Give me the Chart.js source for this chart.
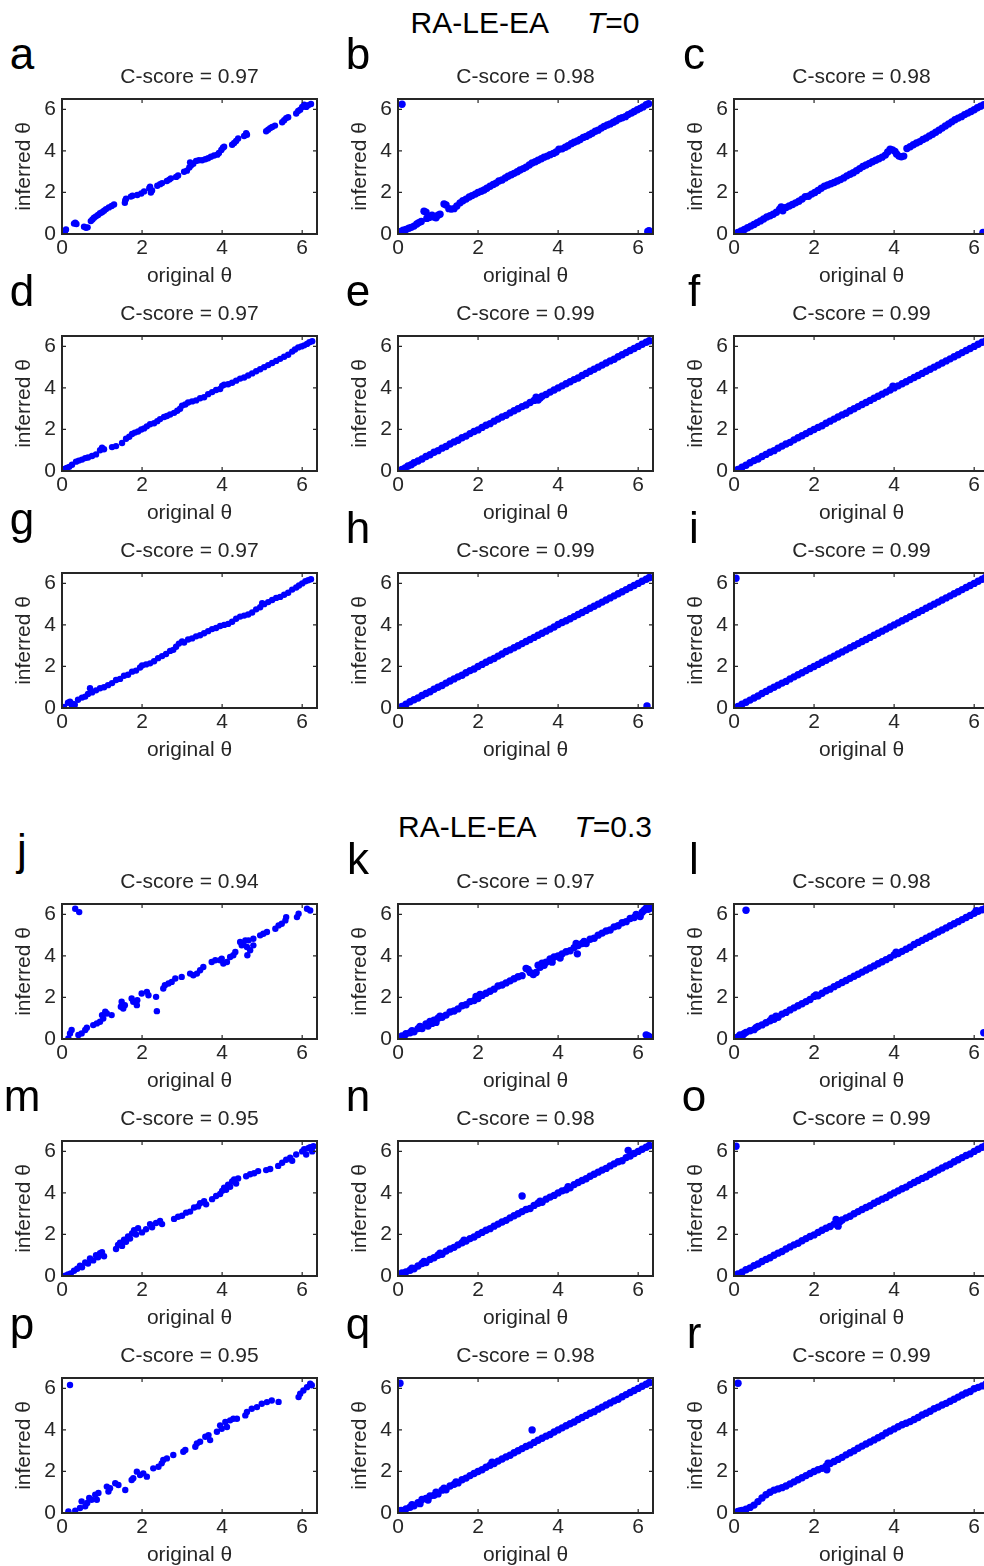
<!DOCTYPE html>
<html>
<head>
<meta charset="utf-8">
<script src="https://cdn.jsdelivr.net/npm/chart.js@4.4.1/dist/chart.umd.min.js"></script>
<style>
  html, body { margin: 0; padding: 0; background: #fff; overflow: hidden; }
  body { width: 984px; height: 1566px; position: relative; font-family: "Liberation Sans", Arial, sans-serif; }
  canvas { position: absolute; }
  .letter { position: absolute; width: 60px; text-align: center; font-size: 44px; line-height: 44px; color: #000; }
  .section { position: absolute; font-size: 30px; line-height: 30px; color: #000; white-space: nowrap; transform: translateX(-50%); }
  .section span { margin-left: 38px; }
</style>
</head>
<body>
<script>
// panel labels, scores and ticks
const letters = ['a','b','c','d','e','f','g','h','i','j','k','l','m','n','o','p','q','r'];
const cScores = [0.97,0.98,0.98,0.97,0.99,0.99,0.97,0.99,0.99,0.94,0.97,0.98,0.95,0.98,0.99,0.95,0.98,0.99];
const tickValues = [0, 2, 4, 6];
const sectionNames = ['RA-LE-EA', 'RA-LE-EA'];
const sectionT = ['0', '0.3'];
const sparsePanels = ['a','d','g','j','m','p'];

// [original theta, inferred theta]
const ptsA = [[0.06,0.05],[0.08,0.15],[0.1,0.22],[0.3,0.5],[0.33,0.55],[0.36,0.48],[0.55,0.35],[0.6,0.3],[0.64,0.32],[0.72,0.62],[0.76,0.7],[0.8,0.78],[0.85,0.85],[0.9,0.92],[0.95,1.0],[1.0,1.05],[1.05,1.12],[1.1,1.2],[1.17,1.28],[1.24,1.35],[1.3,1.42],[1.57,1.5],[1.58,1.62],[1.6,1.7],[1.72,1.8],[1.76,1.84],[1.88,1.88],[1.98,1.95],[2.05,2.05],[2.18,2.2],[2.2,2.28],[2.22,2.0],[2.25,2.1],[2.38,2.32],[2.45,2.4],[2.5,2.45],[2.62,2.55],[2.68,2.62],[2.72,2.68],[2.85,2.75],[2.9,2.82],[3.05,3.0],[3.12,3.05],[3.18,3.2],[3.2,3.45],[3.22,3.3],[3.28,3.38],[3.35,3.52],[3.42,3.55],[3.5,3.55],[3.58,3.6],[3.65,3.65],[3.72,3.72],[3.8,3.78],[3.88,3.82],[3.92,3.9],[3.98,4.05],[4.02,4.15],[4.05,4.2],[4.25,4.3],[4.3,4.38],[4.35,4.48],[4.4,4.6],[4.55,4.72],[4.6,4.85],[4.62,4.78],[5.1,4.95],[5.15,5.02],[5.2,5.1],[5.25,5.15],[5.32,5.22],[5.5,5.38],[5.55,5.48],[5.6,5.58],[5.65,5.62],[5.85,5.8],[5.9,5.92],[5.95,5.98],[6.0,6.12],[6.05,6.22],[6.1,6.12],[6.15,6.2],[6.22,6.26]];
const ptsB = [[0.03,0.08],[0.08,0.12],[0.13,0.18],[0.2,0.22],[0.27,0.28],[0.33,0.32],[0.4,0.38],[0.47,0.48],[0.52,0.55],[0.58,0.6],[0.65,1.1],[0.7,1.05],[0.72,0.75],[0.78,0.8],[0.85,0.9],[0.9,0.82],[0.95,0.78],[1.0,0.9],[1.05,0.95],[1.15,1.45],[1.2,1.4],[1.27,1.22],[1.33,1.2],[1.4,1.22],[1.47,1.35],[1.55,1.5],[1.62,1.6],[1.7,1.68],[1.78,1.78],[1.85,1.85],[1.93,1.92],[2.0,2.0],[2.08,2.06],[2.15,2.12],[2.22,2.2],[2.3,2.3],[2.38,2.38],[2.45,2.45],[2.52,2.55],[2.6,2.6],[2.68,2.7],[2.75,2.78],[2.83,2.85],[2.9,2.92],[2.98,3.0],[3.05,3.08],[3.13,3.15],[3.2,3.22],[3.28,3.32],[3.35,3.42],[3.43,3.48],[3.5,3.55],[3.58,3.62],[3.65,3.7],[3.73,3.75],[3.8,3.82],[3.88,3.88],[3.95,3.95],[4.02,4.08],[4.1,4.1],[4.18,4.18],[4.25,4.25],[4.33,4.35],[4.4,4.42],[4.48,4.48],[4.55,4.55],[4.63,4.65],[4.7,4.7],[4.78,4.78],[4.85,4.85],[4.93,4.95],[5.0,5.0],[5.08,5.1],[5.15,5.18],[5.23,5.25],[5.3,5.3],[5.38,5.38],[5.45,5.45],[5.53,5.55],[5.6,5.6],[5.68,5.65],[5.75,5.75],[5.83,5.82],[5.9,5.9],[5.98,5.98],[6.05,6.05],[6.12,6.12],[6.2,6.22],[6.26,6.27],[0.1,6.25],[6.24,0.12],[6.27,0.16]];
const ptsC = [[0.03,0.03],[0.1,0.08],[0.18,0.15],[0.26,0.22],[0.34,0.3],[0.42,0.38],[0.5,0.46],[0.58,0.55],[0.66,0.63],[0.74,0.72],[0.82,0.82],[0.9,0.88],[0.98,0.95],[1.06,1.05],[1.14,1.2],[1.18,1.3],[1.22,1.12],[1.3,1.28],[1.38,1.35],[1.46,1.42],[1.54,1.5],[1.62,1.58],[1.7,1.68],[1.78,1.8],[1.86,1.82],[1.94,1.92],[2.02,2.0],[2.1,2.1],[2.18,2.2],[2.26,2.3],[2.34,2.36],[2.42,2.42],[2.5,2.48],[2.58,2.55],[2.66,2.62],[2.74,2.7],[2.82,2.8],[2.9,2.88],[2.98,2.95],[3.06,3.05],[3.14,3.15],[3.22,3.25],[3.3,3.32],[3.38,3.4],[3.46,3.48],[3.54,3.55],[3.62,3.62],[3.7,3.7],[3.78,3.8],[3.84,3.95],[3.9,4.08],[3.96,4.05],[4.02,3.98],[4.06,3.85],[4.12,3.75],[4.18,3.72],[4.24,3.75],[4.32,4.12],[4.4,4.2],[4.48,4.3],[4.56,4.38],[4.64,4.45],[4.72,4.55],[4.8,4.62],[4.88,4.72],[4.96,4.8],[5.04,4.9],[5.12,5.0],[5.2,5.1],[5.28,5.2],[5.36,5.3],[5.44,5.4],[5.52,5.5],[5.6,5.58],[5.68,5.65],[5.76,5.75],[5.84,5.82],[5.92,5.9],[6.0,5.98],[6.08,6.08],[6.16,6.15],[6.24,6.22],[6.32,6.3],[6.22,0.08]];
const ptsD = [[0.03,0.05],[0.07,0.1],[0.12,0.15],[0.18,0.2],[0.25,0.3],[0.35,0.45],[0.42,0.5],[0.5,0.55],[0.58,0.62],[0.65,0.65],[0.75,0.72],[0.85,0.8],[0.95,1.0],[1.0,1.12],[1.05,1.05],[1.25,1.15],[1.35,1.2],[1.5,1.35],[1.6,1.55],[1.68,1.65],[1.75,1.78],[1.82,1.85],[1.9,1.9],[1.98,2.0],[2.05,2.05],[2.12,2.15],[2.2,2.25],[2.3,2.3],[2.38,2.4],[2.45,2.5],[2.55,2.6],[2.62,2.65],[2.7,2.72],[2.8,2.8],[2.88,2.9],[2.95,3.0],[3.0,3.15],[3.08,3.2],[3.15,3.3],[3.25,3.35],[3.35,3.4],[3.45,3.5],[3.55,3.55],[3.65,3.7],[3.75,3.8],[3.85,3.9],[3.95,3.95],[4.0,4.1],[4.05,4.15],[4.15,4.18],[4.25,4.25],[4.35,4.35],[4.45,4.45],[4.55,4.5],[4.65,4.6],[4.75,4.7],[4.85,4.8],[4.95,4.9],[5.05,5.0],[5.15,5.1],[5.25,5.2],[5.35,5.3],[5.45,5.4],[5.55,5.5],[5.65,5.6],[5.75,5.75],[5.82,5.85],[5.9,5.95],[5.98,6.0],[6.05,6.05],[6.12,6.12],[6.18,6.2],[6.25,6.25]];
const ptsE = [[0.03,0.02],[0.1,0.08],[0.18,0.15],[0.25,0.24],[0.33,0.3],[0.4,0.4],[0.5,0.48],[0.6,0.58],[0.7,0.7],[0.8,0.78],[0.9,0.9],[1.0,0.98],[1.1,1.1],[1.2,1.18],[1.3,1.3],[1.4,1.4],[1.5,1.48],[1.6,1.6],[1.7,1.68],[1.8,1.8],[1.9,1.9],[2.0,1.98],[2.1,2.1],[2.2,2.2],[2.3,2.28],[2.4,2.4],[2.5,2.5],[2.6,2.6],[2.7,2.68],[2.8,2.8],[2.9,2.9],[3.0,3.0],[3.1,3.1],[3.2,3.18],[3.3,3.3],[3.4,3.4],[3.45,3.55],[3.5,3.42],[3.55,3.52],[3.6,3.6],[3.7,3.68],[3.8,3.8],[3.9,3.9],[4.0,4.0],[4.1,4.1],[4.2,4.2],[4.3,4.3],[4.4,4.4],[4.5,4.48],[4.6,4.6],[4.7,4.7],[4.8,4.8],[4.9,4.9],[5.0,5.0],[5.1,5.1],[5.2,5.2],[5.3,5.3],[5.4,5.38],[5.5,5.5],[5.6,5.6],[5.7,5.7],[5.8,5.8],[5.9,5.9],[6.0,6.0],[6.1,6.1],[6.2,6.2],[6.28,6.27]];
const ptsF = [[0.03,0.03],[0.1,0.08],[0.2,0.18],[0.3,0.28],[0.4,0.4],[0.5,0.5],[0.6,0.58],[0.7,0.7],[0.8,0.8],[0.9,0.9],[1.0,0.98],[1.1,1.1],[1.2,1.2],[1.3,1.3],[1.4,1.38],[1.5,1.5],[1.6,1.6],[1.7,1.7],[1.8,1.8],[1.9,1.9],[2.0,2.0],[2.1,2.1],[2.2,2.18],[2.3,2.3],[2.4,2.4],[2.5,2.5],[2.6,2.6],[2.7,2.7],[2.8,2.78],[2.9,2.9],[3.0,3.0],[3.1,3.1],[3.2,3.2],[3.3,3.3],[3.4,3.4],[3.5,3.5],[3.6,3.6],[3.7,3.7],[3.8,3.8],[3.9,3.9],[3.97,4.08],[4.0,4.0],[4.1,4.1],[4.2,4.2],[4.3,4.3],[4.4,4.4],[4.5,4.5],[4.6,4.6],[4.7,4.7],[4.8,4.8],[4.9,4.9],[5.0,5.0],[5.1,5.1],[5.2,5.2],[5.3,5.3],[5.4,5.4],[5.5,5.5],[5.6,5.6],[5.7,5.7],[5.8,5.8],[5.9,5.9],[6.0,6.0],[6.1,6.1],[6.2,6.2],[6.3,6.28]];
const ptsG = [[0.05,0.05],[0.15,0.25],[0.2,0.3],[0.25,0.1],[0.28,0.2],[0.32,0.15],[0.4,0.4],[0.5,0.5],[0.58,0.55],[0.65,0.68],[0.7,0.95],[0.75,0.75],[0.85,0.85],[0.95,0.95],[1.05,1.0],[1.15,1.1],[1.25,1.2],[1.35,1.35],[1.45,1.4],[1.55,1.55],[1.65,1.6],[1.75,1.75],[1.85,1.8],[1.95,1.95],[2.0,2.05],[2.1,2.1],[2.2,2.15],[2.3,2.25],[2.4,2.4],[2.5,2.5],[2.6,2.6],[2.7,2.75],[2.78,2.8],[2.85,2.95],[2.92,3.1],[3.0,3.2],[3.05,3.15],[3.15,3.3],[3.25,3.35],[3.35,3.45],[3.45,3.5],[3.55,3.6],[3.65,3.7],[3.75,3.8],[3.85,3.85],[3.95,3.95],[4.05,4.0],[4.15,4.05],[4.25,4.15],[4.35,4.3],[4.45,4.4],[4.55,4.45],[4.65,4.5],[4.75,4.6],[4.85,4.75],[4.95,4.85],[5.0,5.05],[5.05,5.0],[5.15,5.1],[5.25,5.2],[5.35,5.3],[5.45,5.35],[5.55,5.45],[5.65,5.55],[5.75,5.7],[5.85,5.8],[5.92,5.9],[6.0,6.0],[6.08,6.1],[6.15,6.15],[6.22,6.2]];
const ptsH = [[0.03,0.03],[0.1,0.08],[0.2,0.18],[0.3,0.3],[0.4,0.4],[0.5,0.48],[0.6,0.6],[0.7,0.7],[0.8,0.78],[0.9,0.9],[1.0,1.0],[1.1,1.08],[1.2,1.2],[1.3,1.3],[1.4,1.4],[1.5,1.5],[1.6,1.58],[1.7,1.7],[1.8,1.8],[1.9,1.88],[2.0,2.0],[2.1,2.1],[2.2,2.2],[2.3,2.3],[2.4,2.38],[2.5,2.5],[2.6,2.6],[2.7,2.72],[2.8,2.8],[2.9,2.9],[3.0,3.0],[3.1,3.1],[3.2,3.2],[3.3,3.3],[3.4,3.4],[3.5,3.5],[3.6,3.6],[3.7,3.7],[3.8,3.8],[3.9,3.9],[4.0,4.02],[4.1,4.12],[4.2,4.2],[4.3,4.3],[4.4,4.4],[4.5,4.5],[4.6,4.6],[4.7,4.7],[4.8,4.8],[4.9,4.9],[5.0,5.0],[5.1,5.1],[5.2,5.2],[5.3,5.3],[5.4,5.4],[5.5,5.5],[5.6,5.6],[5.7,5.7],[5.8,5.8],[5.9,5.9],[6.0,6.0],[6.1,6.1],[6.2,6.2],[6.28,6.28],[6.22,0.1]];
const ptsI = [[0.03,0.02],[0.1,0.08],[0.2,0.18],[0.3,0.28],[0.4,0.38],[0.5,0.48],[0.6,0.58],[0.7,0.7],[0.8,0.8],[0.9,0.9],[1.0,1.0],[1.1,1.1],[1.2,1.2],[1.3,1.28],[1.4,1.4],[1.5,1.5],[1.6,1.6],[1.7,1.7],[1.8,1.8],[1.9,1.9],[2.0,2.0],[2.1,2.1],[2.2,2.2],[2.3,2.3],[2.4,2.4],[2.5,2.5],[2.6,2.6],[2.7,2.7],[2.8,2.8],[2.9,2.9],[3.0,3.0],[3.1,3.1],[3.2,3.2],[3.3,3.3],[3.4,3.4],[3.5,3.5],[3.6,3.6],[3.7,3.7],[3.8,3.8],[3.9,3.9],[4.0,4.0],[4.1,4.1],[4.2,4.2],[4.3,4.3],[4.4,4.4],[4.5,4.5],[4.6,4.6],[4.7,4.7],[4.8,4.8],[4.9,4.9],[5.0,5.0],[5.1,5.1],[5.2,5.2],[5.3,5.3],[5.4,5.4],[5.5,5.5],[5.6,5.6],[5.7,5.7],[5.8,5.8],[5.9,5.9],[6.0,6.0],[6.1,6.1],[6.2,6.2],[6.28,6.28],[0.05,6.25]];
const ptsJ = [[0.33,6.27],[0.43,6.11],[0.16,0.03],[0.2,0.27],[0.24,0.43],[0.41,0.19],[0.49,0.27],[0.58,0.43],[0.62,0.54],[0.78,0.67],[0.87,0.75],[0.95,0.83],[1.03,0.99],[1.08,1.31],[1.0,1.15],[1.12,1.23],[1.24,1.15],[1.49,1.79],[1.53,1.47],[1.57,1.63],[1.47,1.55],[1.74,1.95],[1.78,1.79],[1.87,1.63],[1.88,1.87],[1.99,2.19],[2.12,2.27],[2.16,2.11],[2.35,2.03],[2.37,1.34],[2.53,2.43],[2.57,2.59],[2.66,2.67],[2.74,2.75],[2.83,2.91],[2.99,2.99],[3.2,3.15],[3.28,3.07],[3.37,3.15],[3.45,3.31],[3.53,3.47],[3.74,3.71],[3.83,3.79],[3.95,3.79],[4.03,3.63],[3.99,3.87],[4.12,3.71],[4.2,3.95],[4.28,4.03],[4.33,4.19],[4.45,4.67],[4.49,4.51],[4.53,4.59],[4.58,4.75],[4.62,4.43],[4.66,4.75],[4.63,4.03],[4.7,4.27],[4.78,4.51],[4.78,4.83],[4.95,4.99],[5.03,5.07],[5.12,5.15],[5.33,5.31],[5.41,5.47],[5.49,5.55],[5.58,5.71],[5.6,5.87],[5.87,5.87],[5.91,6.03],[6.12,6.27],[6.2,6.19]];
const ptsK = [[0.05,0.05],[0.1,0.15],[0.15,0.1],[0.2,0.25],[0.3,0.3],[0.35,0.4],[0.4,0.35],[0.5,0.5],[0.55,0.6],[0.6,0.5],[0.7,0.72],[0.75,0.62],[0.8,0.85],[0.85,0.75],[0.9,0.9],[0.95,0.8],[1.0,1.0],[1.05,1.1],[1.1,1.05],[1.2,1.15],[1.3,1.3],[1.4,1.35],[1.5,1.45],[1.6,1.6],[1.7,1.65],[1.8,1.8],[1.9,1.85],[1.95,2.05],[2.0,1.95],[2.05,2.15],[2.1,2.1],[2.2,2.2],[2.3,2.3],[2.4,2.4],[2.5,2.55],[2.6,2.6],[2.7,2.7],[2.8,2.8],[2.9,2.9],[3.0,3.0],[3.1,3.05],[3.2,3.4],[3.25,3.35],[3.3,3.2],[3.38,3.1],[3.45,3.2],[3.5,3.55],[3.55,3.45],[3.6,3.65],[3.65,3.55],[3.7,3.7],[3.8,3.85],[3.85,3.7],[3.9,3.95],[4.0,4.0],[4.05,3.9],[4.1,4.1],[4.2,4.2],[4.3,4.25],[4.4,4.4],[4.45,4.6],[4.48,4.1],[4.5,4.5],[4.6,4.6],[4.65,4.7],[4.7,4.6],[4.8,4.8],[4.9,4.85],[5.0,5.0],[5.1,5.1],[5.2,5.2],[5.3,5.25],[5.4,5.4],[5.5,5.45],[5.6,5.6],[5.7,5.65],[5.8,5.8],[5.9,5.85],[5.95,6.0],[6.05,5.9],[6.1,6.1],[6.15,6.2],[6.2,6.3],[6.25,6.25],[6.3,6.3],[6.2,0.2],[6.25,0.15],[6.28,0.1]];
const ptsL = [[0.05,0.05],[0.1,0.1],[0.15,0.2],[0.2,0.12],[0.25,0.25],[0.3,0.32],[0.4,0.4],[0.5,0.45],[0.55,0.55],[0.6,0.6],[0.7,0.68],[0.8,0.78],[0.9,0.88],[0.95,1.0],[1.0,0.95],[1.05,1.1],[1.1,1.05],[1.2,1.2],[1.3,1.28],[1.4,1.4],[1.5,1.5],[1.6,1.6],[1.7,1.7],[1.8,1.8],[1.9,1.9],[2.0,2.05],[2.05,2.12],[2.1,2.08],[2.2,2.2],[2.3,2.32],[2.4,2.4],[2.5,2.52],[2.6,2.62],[2.7,2.72],[2.8,2.82],[2.9,2.92],[3.0,3.02],[3.1,3.12],[3.2,3.22],[3.3,3.32],[3.4,3.42],[3.5,3.52],[3.6,3.62],[3.7,3.72],[3.8,3.82],[3.9,3.92],[4.0,4.05],[4.05,4.18],[4.1,4.12],[4.2,4.22],[4.3,4.32],[4.4,4.42],[4.5,4.55],[4.6,4.65],[4.7,4.75],[4.8,4.85],[4.9,4.95],[5.0,5.05],[5.1,5.15],[5.2,5.25],[5.3,5.35],[5.4,5.45],[5.5,5.55],[5.6,5.65],[5.7,5.75],[5.8,5.85],[5.9,5.95],[6.0,6.05],[6.05,6.18],[6.1,6.15],[6.2,6.22],[6.28,6.28],[0.3,6.2],[6.24,0.3]];
const ptsM = [[0.08,0.02],[0.15,0.08],[0.22,0.12],[0.3,0.25],[0.38,0.35],[0.45,0.5],[0.5,0.42],[0.58,0.65],[0.65,0.6],[0.7,0.85],[0.78,0.75],[0.85,1.0],[0.9,0.9],[0.95,1.1],[1.0,1.15],[1.05,0.95],[1.35,1.3],[1.4,1.5],[1.45,1.6],[1.5,1.45],[1.55,1.75],[1.6,1.65],[1.65,1.9],[1.7,1.8],[1.75,2.05],[1.8,2.2],[1.85,2.0],[1.9,2.3],[2.0,2.1],[2.1,2.25],[2.2,2.5],[2.25,2.35],[2.35,2.55],[2.45,2.65],[2.5,2.5],[2.8,2.75],[2.9,2.85],[3.0,2.9],[3.1,3.05],[3.2,3.1],[3.3,3.3],[3.4,3.35],[3.45,3.5],[3.55,3.6],[3.6,3.45],[3.75,3.7],[3.85,3.85],[3.95,3.95],[4.0,4.1],[4.05,4.25],[4.1,4.15],[4.15,4.4],[4.2,4.3],[4.25,4.55],[4.3,4.65],[4.35,4.45],[4.4,4.7],[4.6,4.8],[4.7,4.9],[4.8,4.95],[4.9,5.05],[5.1,5.1],[5.2,5.15],[5.4,5.3],[5.5,5.45],[5.6,5.6],[5.7,5.7],[5.75,5.55],[5.85,5.85],[6.0,6.0],[6.05,6.1],[6.1,5.85],[6.15,6.15],[6.2,6.2],[6.25,6.0],[6.28,6.25]];
const ptsN = [[0.05,0.05],[0.1,0.15],[0.15,0.1],[0.2,0.2],[0.3,0.28],[0.35,0.38],[0.4,0.35],[0.5,0.48],[0.6,0.6],[0.65,0.7],[0.7,0.65],[0.8,0.8],[0.9,0.88],[1.0,1.0],[1.05,1.1],[1.1,1.05],[1.2,1.2],[1.3,1.3],[1.4,1.38],[1.5,1.5],[1.6,1.6],[1.65,1.72],[1.7,1.68],[1.8,1.8],[1.9,1.88],[2.0,2.0],[2.1,2.1],[2.2,2.2],[2.3,2.28],[2.4,2.4],[2.5,2.5],[2.6,2.6],[2.7,2.68],[2.8,2.8],[2.9,2.9],[3.0,3.0],[3.1,3.1],[3.2,3.2],[3.3,3.25],[3.4,3.4],[3.5,3.5],[3.55,3.6],[3.6,3.55],[3.7,3.7],[3.8,3.8],[3.9,3.88],[4.0,4.0],[4.1,4.1],[4.2,4.15],[4.25,4.3],[4.3,4.25],[4.4,4.4],[4.5,4.5],[4.6,4.6],[4.7,4.68],[4.8,4.8],[4.9,4.9],[5.0,5.0],[5.1,5.1],[5.2,5.18],[5.3,5.3],[5.4,5.4],[5.5,5.5],[5.6,5.55],[5.7,5.7],[5.8,5.78],[5.9,5.9],[6.0,6.0],[6.1,6.1],[6.2,6.2],[6.28,6.28],[3.1,3.85],[5.75,6.05]];
const ptsO = [[0.03,0.03],[0.1,0.1],[0.2,0.18],[0.3,0.3],[0.4,0.38],[0.5,0.5],[0.6,0.58],[0.7,0.7],[0.8,0.8],[0.9,0.88],[1.0,1.0],[1.1,1.1],[1.2,1.18],[1.3,1.3],[1.4,1.4],[1.5,1.5],[1.6,1.58],[1.7,1.7],[1.8,1.8],[1.9,1.9],[2.0,1.98],[2.1,2.1],[2.2,2.2],[2.3,2.3],[2.4,2.38],[2.5,2.5],[2.55,2.72],[2.6,2.4],[2.65,2.62],[2.7,2.7],[2.8,2.8],[2.9,2.88],[3.0,3.0],[3.1,3.1],[3.2,3.2],[3.3,3.3],[3.4,3.38],[3.5,3.5],[3.6,3.6],[3.7,3.7],[3.8,3.78],[3.9,3.9],[4.0,4.0],[4.1,4.1],[4.2,4.2],[4.3,4.28],[4.4,4.4],[4.5,4.5],[4.6,4.6],[4.7,4.7],[4.8,4.78],[4.9,4.9],[5.0,5.0],[5.1,5.1],[5.2,5.2],[5.3,5.3],[5.4,5.38],[5.5,5.5],[5.6,5.6],[5.7,5.7],[5.8,5.8],[5.9,5.88],[6.0,6.0],[6.1,6.1],[6.2,6.2],[6.28,6.27],[0.05,6.25]];
const ptsP = [[0.2,6.16],[0.16,0.08],[0.33,0.11],[0.45,0.24],[0.49,0.56],[0.58,0.32],[0.63,0.48],[0.68,0.72],[0.74,0.64],[0.83,0.88],[0.87,0.64],[0.91,0.96],[1.12,1.27],[1.16,1.03],[1.2,1.19],[1.33,1.43],[1.41,1.35],[1.58,1.11],[1.74,1.59],[1.78,1.67],[1.87,1.99],[1.95,1.83],[2.03,1.91],[2.12,1.75],[2.28,2.15],[2.41,2.23],[2.49,2.39],[2.53,2.55],[2.62,2.63],[2.78,2.79],[3.08,3.03],[3.03,2.95],[3.33,3.19],[3.37,3.35],[3.45,3.43],[3.58,3.67],[3.66,3.75],[3.7,3.51],[3.87,3.91],[3.95,4.22],[3.99,4.06],[4.08,4.38],[4.12,4.14],[4.2,4.46],[4.28,4.54],[4.37,4.54],[4.58,4.7],[4.62,4.86],[4.74,5.02],[4.87,5.1],[4.99,5.26],[5.12,5.34],[5.24,5.42],[5.41,5.35],[5.91,5.58],[5.95,5.74],[6.03,5.9],[6.12,6.06],[6.2,6.22],[6.24,6.15]];
const ptsQ = [[0.03,0.03],[0.08,0.12],[0.12,0.05],[0.2,0.2],[0.3,0.28],[0.35,0.4],[0.4,0.35],[0.5,0.5],[0.55,0.45],[0.6,0.65],[0.7,0.7],[0.75,0.62],[0.8,0.82],[0.9,0.85],[0.95,1.0],[1.0,0.92],[1.1,1.1],[1.15,1.2],[1.2,1.12],[1.3,1.3],[1.4,1.38],[1.45,1.5],[1.5,1.45],[1.6,1.6],[1.7,1.68],[1.8,1.8],[1.9,1.9],[2.0,2.0],[2.1,2.08],[2.2,2.2],[2.3,2.3],[2.35,2.45],[2.4,2.38],[2.5,2.5],[2.6,2.6],[2.7,2.7],[2.8,2.78],[2.9,2.9],[3.0,3.0],[3.1,3.1],[3.2,3.2],[3.3,3.28],[3.4,3.4],[3.5,3.5],[3.6,3.6],[3.7,3.7],[3.8,3.78],[3.9,3.9],[4.0,4.0],[4.1,4.1],[4.2,4.2],[4.3,4.3],[4.4,4.38],[4.5,4.5],[4.6,4.6],[4.7,4.7],[4.8,4.8],[4.9,4.88],[5.0,5.0],[5.1,5.1],[5.2,5.2],[5.3,5.3],[5.4,5.4],[5.5,5.48],[5.6,5.6],[5.7,5.7],[5.8,5.8],[5.9,5.9],[6.0,6.0],[6.1,6.1],[6.2,6.2],[6.28,6.28],[0.05,6.25],[3.35,4.0]];
const ptsR = [[0.05,0.03],[0.1,0.08],[0.15,0.1],[0.2,0.12],[0.3,0.18],[0.4,0.27],[0.5,0.38],[0.6,0.55],[0.7,0.72],[0.8,0.88],[0.9,1.0],[1.0,1.1],[1.1,1.16],[1.2,1.22],[1.3,1.3],[1.4,1.4],[1.5,1.5],[1.6,1.6],[1.7,1.7],[1.8,1.8],[1.9,1.9],[2.0,2.0],[2.1,2.08],[2.2,2.15],[2.3,2.25],[2.32,2.08],[2.35,2.4],[2.4,2.38],[2.5,2.48],[2.6,2.58],[2.7,2.68],[2.8,2.8],[2.9,2.9],[3.0,3.0],[3.1,3.12],[3.2,3.22],[3.3,3.32],[3.4,3.42],[3.5,3.52],[3.6,3.62],[3.7,3.72],[3.8,3.85],[3.9,3.95],[4.0,4.05],[4.1,4.15],[4.2,4.25],[4.3,4.32],[4.4,4.4],[4.5,4.5],[4.6,4.6],[4.7,4.72],[4.8,4.8],[4.9,4.9],[5.0,5.02],[5.1,5.1],[5.2,5.2],[5.3,5.28],[5.4,5.38],[5.5,5.48],[5.6,5.58],[5.7,5.68],[5.8,5.78],[5.9,5.85],[6.0,5.98],[6.1,6.05],[6.2,6.12],[6.3,6.22],[0.1,6.25]];

const panelPoints = [ptsA,ptsB,ptsC,ptsD,ptsE,ptsF,ptsG,ptsH,ptsI,ptsJ,ptsK,ptsL,ptsM,ptsN,ptsO,ptsP,ptsQ,ptsR];

// layout of the grid (plot box corners in page pixels)
const colLeft = [62, 398, 734];
const rowTop = [99, 336, 573, 904, 1141, 1378];
const plotW = 255, plotH = 135;
const axisW = 62, titleH = 40, xAxisH = 60, padRight = 12;
const ink = '#262626';

// box with inward ticks, MATLAB style
const boxPlugin = {
  id: 'matlabBox',
  afterDatasetsDraw(chart) {
    const { ctx, chartArea: a, scales: { x, y } } = chart;
    ctx.save();
    ctx.strokeStyle = ink;
    ctx.lineWidth = 1.2;
    ctx.beginPath();
    tickValues.forEach(v => {
      const px = x.getPixelForValue(v);
      ctx.moveTo(px, a.bottom); ctx.lineTo(px, a.bottom - 4);
      ctx.moveTo(px, a.top); ctx.lineTo(px, a.top + 4);
      const py = y.getPixelForValue(v);
      ctx.moveTo(a.left, py); ctx.lineTo(a.left + 4, py);
      ctx.moveTo(a.right, py); ctx.lineTo(a.right - 4, py);
    });
    ctx.stroke();
    ctx.lineWidth = 2;
    ctx.strokeRect(a.left, a.top, a.right - a.left, a.bottom - a.top);
    ctx.restore();
  }
};

Chart.defaults.font.family = '"Liberation Sans", Arial, sans-serif';
Chart.defaults.color = ink;

// section titles
[[0, 33], [1, 837]].forEach(([k, base]) => {
  const d = document.createElement('div');
  d.className = 'section';
  d.style.left = '525px';
  d.style.top = (base - 25) + 'px';
  d.innerHTML = sectionNames[k] + '<span><i>T</i>=' + sectionT[k] + '</span>';
  document.body.appendChild(d);
});

letters.forEach((letter, i) => {
  const row = Math.floor(i / 3), col = i % 3;
  const left = colLeft[col], top = rowTop[row];

  // panel letter
  const lab = document.createElement('div');
  lab.className = 'letter';
  lab.textContent = letter;
  lab.style.left = (left - 70) + 'px';
  lab.style.top = (top - ('gjpq'.includes(letter) ? 76 : 67)) + 'px';
  document.body.appendChild(lab);

  const cv = document.createElement('canvas');
  cv.width = axisW + plotW + padRight;
  cv.height = titleH + plotH + xAxisH;
  cv.style.left = (left - axisW) + 'px';
  cv.style.top = (top - titleH) + 'px';
  document.body.appendChild(cv);

  const sparse = sparsePanels.includes(letter);
  new Chart(cv.getContext('2d'), {
    type: 'scatter',
    data: {
      datasets: [{
        data: panelPoints[i].map(p => ({ x: p[0], y: p[1] })),
        backgroundColor: '#0000ff',
        borderWidth: 0,
        pointRadius: sparse ? 3.2 : 3.7,
        pointBorderWidth: 0
      }]
    },
    options: {
      responsive: false,
      animation: false,
      events: [],
      layout: { padding: { left: 0, right: padRight, top: 0, bottom: 0 } },
      scales: {
        x: {
          type: 'linear', min: 0, max: 6.37,
          afterBuildTicks: s => { s.ticks = tickValues.map(v => ({ value: v })); },
          afterFit: s => { s.height = xAxisH; },
          grid: { display: false, drawTicks: false },
          border: { display: false },
          ticks: { padding: 2, color: ink, font: { size: 21 } },
          title: { display: true, text: 'original θ', color: ink, font: { size: 21 }, padding: { top: 0, bottom: 5 } }
        },
        y: {
          type: 'linear', min: 0, max: 6.5,
          afterBuildTicks: s => { s.ticks = tickValues.map(v => ({ value: v })); },
          afterFit: s => { s.width = axisW; },
          grid: { display: false, drawTicks: false },
          border: { display: false },
          ticks: { padding: 6, color: ink, font: { size: 21 } },
          title: { display: true, text: 'inferred θ', color: ink, font: { size: 21 }, padding: { top: 12, bottom: 0 } }
        }
      },
      plugins: {
        legend: { display: false },
        tooltip: { enabled: false },
        title: {
          display: true,
          fullSize: false,
          text: 'C-score = ' + cScores[i].toFixed(2),
          color: ink,
          font: { size: 21, weight: 'normal' },
          padding: { top: 6, bottom: 8.8 }
        }
      }
    },
    plugins: [boxPlugin]
  });
});
</script>
</body>
</html>
